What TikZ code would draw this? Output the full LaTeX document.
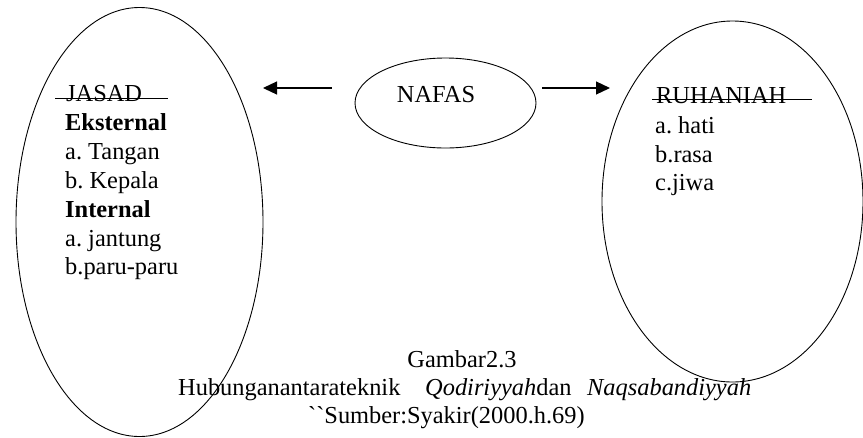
\documentclass[tikz,border=0pt]{standalone}
\usepackage{fontspec}
\setmainfont{Liberation Serif}
\newfontfamily\capfont{Liberation Serif}
\usepackage{tikz}
\usetikzlibrary{arrows.meta, positioning, shapes.geometric}

\begin{document}
\begin{tikzpicture}[x=1pt, y=-1pt,
  oval/.style={draw, ellipse, line width=0.9pt, inner sep=0pt},
  txt/.style={anchor=base west, inner sep=0pt, font=\capfont\fontsize{24.4}{28.8}\selectfont},
  arr/.style={-{Triangle[length=14pt, width=13pt]}, line width=1.2pt},
  strike/.style={line width=1pt}]
\useasboundingbox (0,0) rectangle (863,437);

\node[oval, minimum width=247pt, minimum height=429pt] (jasad) at (139.5,222) {};
\node[oval, minimum width=261pt, minimum height=361pt] (ruh) at (732.5,201.5) {};
\node[oval, minimum width=181pt, minimum height=90pt] (nafas) at (445.5,103) {};
\node[txt, anchor=base] (nafastxt) at (436,102) {NAFAS};

\coordinate (la) at (263,88);
\coordinate (ra) at (610,88);
\draw[arr, shorten <=23pt] (nafas.west |- la) -- (la);
\draw[arr, shorten <=6pt] (nafas.east |- ra) -- (ra);

% jasad
\node[txt] (js) at (66,101) {JASAD};
\draw[strike] (55,98) -- (168,98);
\node[txt] (js1) at (65,130) {\textbf{Eksternal}};
\node[txt] (js2) at (65,159) {a.~Tangan};
\node[txt] (js3) at (65,188) {b.~Kepala};
\node[txt] (js4) at (65,217) {\textbf{Internal}};
\node[txt] (js5) at (65,246) {a.~jantung};
\node[txt] (js6) at (65,274) {b.paru-paru};

% ruhaniah
\node[txt] (rh) at (656,103) {RUHANIAH};
\draw[strike] (652,99) -- (812,99);
\node[txt] (rh1) at (655,133) {a.~hati};
\node[txt] (rh2) at (655,162) {b.rasa};
\node[txt] (rh3) at (655,190) {c.jiwa};

% caption
\node[txt, anchor=base] (fig) at (462,367) {Gambar2.3};
\node[txt] (cap1) at (178,395) {Hubunganantarateknik};
\node[txt] (cap2) at (425,395) {\textit{Qodiriyyah}dan};
\node[txt] (cap3) at (587,395) {\textit{Naqsabandiyyah}};
\node[txt] (src) at (308,423) {``Sumber:Syakir(2000.h.69)};

\end{tikzpicture}
\end{document}
